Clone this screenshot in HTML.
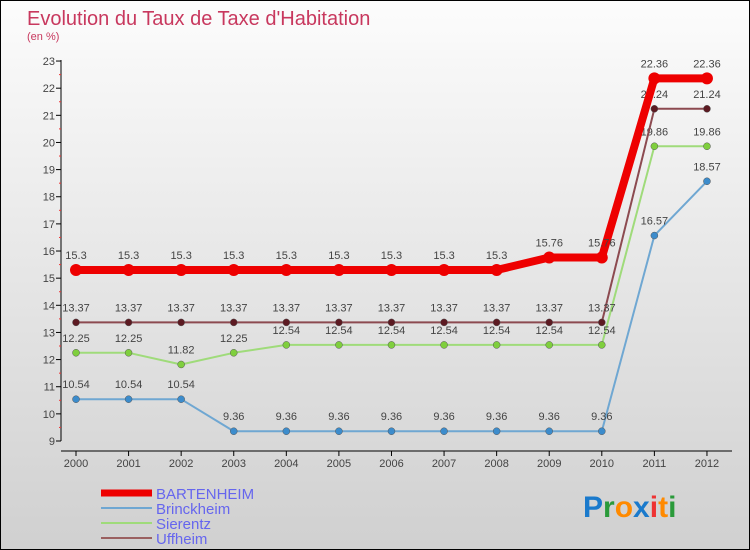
<!DOCTYPE html>
<html><head><meta charset="utf-8"><style>
body{margin:0}
#c{width:750px;height:550px;position:relative;box-sizing:border-box;border:1px solid #000;background:linear-gradient(#fcfcfc,#d0d0d0);font-family:"Liberation Sans",sans-serif;overflow:hidden}
</style></head><body>
<div id="c">
<svg id="s" width="748" height="548" style="position:absolute;left:0;top:0">
<text x="26" y="24" font-size="20" fill="#c8385e">Evolution du Taux de Taxe d'Habitation</text>
<text x="26" y="39" font-size="11" fill="#c8385e">(en %)</text>
</svg>
</div>
<script>
const years=[2000,2001,2002,2003,2004,2005,2006,2007,2008,2009,2010,2011,2012];
const bartenheim=[15.3,15.3,15.3,15.3,15.3,15.3,15.3,15.3,15.3,15.76,15.76,22.36,22.36];
const brinckheim=[10.54,10.54,10.54,9.36,9.36,9.36,9.36,9.36,9.36,9.36,9.36,16.57,18.57];
const sierentz=[12.25,12.25,11.82,12.25,12.54,12.54,12.54,12.54,12.54,12.54,12.54,19.86,19.86];
const uffheim=[13.37,13.37,13.37,13.37,13.37,13.37,13.37,13.37,13.37,13.37,13.37,21.24,21.24];
const yTicks=[9,10,11,12,13,14,15,16,17,18,19,20,21,22,23];
const NS='http://www.w3.org/2000/svg';const s=document.getElementById('s');
const X=i=>75+i*52.58, Y=v=>440-(v-9)*27.14;
function el(t,a,p){const e=document.createElementNS(NS,t);for(const k in a)e.setAttribute(k,a[k]);(p||s).appendChild(e);return e;}
let e;
e=el('line',{x1:60,y1:59,x2:60,y2:440,stroke:'#000'});


e=el('line',{x1:60,y1:450,x2:731,y2:450,stroke:'#000'});


yTicks.forEach(v=>{
 el('line',{x1:55,x2:60,y1:Y(v),y2:Y(v),stroke:'#000'});
 if(v<23)el('line',{x1:58,x2:60,y1:Y(v+0.5),y2:Y(v+0.5),stroke:'#e33'});
 e=el('text',{x:54,y:Y(v)+4,'font-size':11,fill:'#444','text-anchor':'end'});e.textContent=v;
 
 
});
years.forEach((y,i)=>{
 el('line',{x1:X(i),x2:X(i),y1:450,y2:455,stroke:'#000'});
 e=el('text',{x:X(i),y:466,'font-size':11,fill:'#444','text-anchor':'middle'});e.textContent=y;
 
 
});
function series(d,col,w,name,dots){
 const g=el('g',{});
 
 
 el('polyline',{points:d.map((v,i)=>X(i)+','+Y(v)).join(' '),fill:'none',stroke:col,'stroke-width':w,'stroke-linejoin':'round'},g);
 d.forEach((v,i)=>{
  const c=el('circle',{cx:X(i),cy:Y(v),r:dots?3.5:6,fill:dots||col,stroke:dots?'#555':'none','stroke-width':0.5},g);
  
  
  const t=el('text',{x:X(i),y:Y(v)-11,'font-size':11,fill:'#444','text-anchor':'middle'},g);t.textContent=v;
  
  
 });
}
series(brinckheim,'#6fa7d2',2,'brinckheim','#3c8ccc');
series(sierentz,'#9fdb7a',2,'sierentz','#7fcf3d');
series(uffheim,'#8c4a50',2,'uffheim','#5c1a22');
series(bartenheim,'#ee0000',8,'bartenheim',null);
const leg=[['BARTENHEIM','#ee0000',7],['Brinckheim','#6fa7d2',2],['Sierentz','#9fdb7a',2],['Uffheim','#9a6060',2]];
leg.forEach((l,i)=>{
 const y=492+i*15;
 const g=el('g',{});
 
 
 el('line',{x1:100,x2:151,y1:y,y2:y,stroke:l[1],'stroke-width':l[2]},g);
 const t=el('text',{x:155,y:y+6,'font-size':15,fill:'#6666ee'},g);t.textContent=l[0];
});
const logo=el('text',{x:582,y:516,'font-size':30,'font-weight':'bold'});


[['P','#1a7acc'],['r','#2a9a3a'],['o','#ff8a00'],['x','#1a7acc'],['i','#e33'],['t','#ff8a00'],['i','#2a9a3a']].forEach(c=>{const t=el('tspan',{fill:c[1]},logo);t.textContent=c[0];});
</script>
</body></html>
